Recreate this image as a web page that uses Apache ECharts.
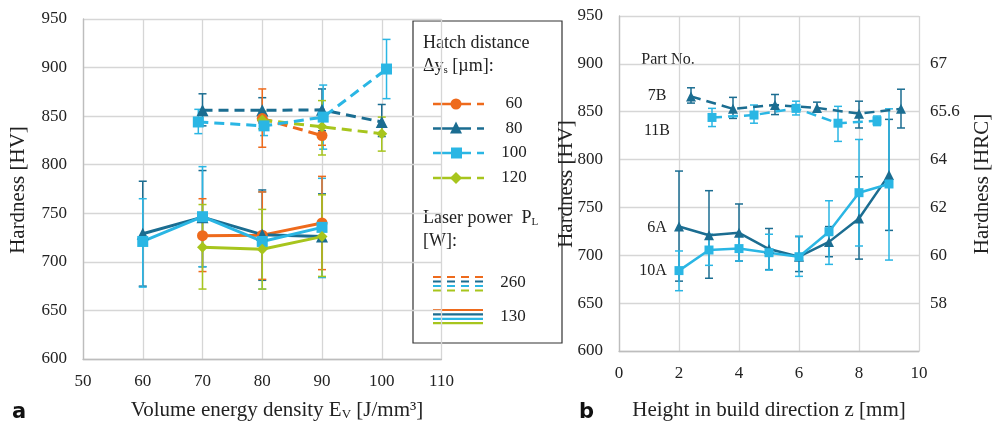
<!DOCTYPE html>
<html>
<head>
<meta charset="utf-8">
<script src="https://cdn.jsdelivr.net/npm/echarts@6/dist/echarts.min.js"></script>
<style>
html,body{margin:0;padding:0;background:#fff;}
#chart{width:1001px;height:426px;}
</style>
</head>
<body>
<div id="chart"></div>
<script>
// colours per hatch distance
var cOrange = '#EE6A1C', cDark = '#1B6D91', cLight = '#2AB6E4', cGreen = '#A7C51D';

// ---- panel a : hardness vs. volume energy density ----
// 130 W (solid)
var s60x = [70, 80, 90],          s60y = [727, 727.5, 740],       s60lo = [690, 682, 692],      s60hi = [765, 772, 788];
var s80x = [60, 70, 80, 90],      s80y = [729, 746, 728, 726],    s80lo = [675, 695, 681, 684], s80hi = [783, 794, 774, 770];
var s100x = [60, 70, 80, 90],     s100y = [721, 746.5, 721, 735.5], s100lo = [674, 695, 672, 684], s100hi = [765, 798, 772, 786];
var s120x = [70, 80, 90],         s120y = [715, 713, 726],        s120lo = [672, 672, 685],     s120hi = [759, 754, 769];
// 260 W (dashed)
var d60x = [80, 90],              d60y = [847.5, 830],            d60lo = [818, 820],           d60hi = [878, 840];
var d80x = [70, 80, 90, 100],     d80y = [856, 856, 856.5, 844],  d80lo = [840, 843, 835, 829], d80hi = [873, 869, 878, 862];
var d100x = [69.3, 80.3, 90.2, 100.8], d100y = [844, 840, 849, 898.5], d100lo = [832, 830, 816, 868], d100hi = [857, 850, 882, 929];
var d120x = [80, 90, 100],        d120y = [846, 839, 832],        d120lo = [837, 810, 814],     d120hi = [855, 866, 849];

// ---- panel b : hardness vs. build height ----
var p7Bz = [2.4, 3.8, 5.2, 6.6, 8.0, 9.4];
var p7By = [866, 853, 857, 854, 848, 853];
var p7Blo = [859, 843, 847, 850, 833, 833];
var p7Bhi = [875, 865, 868, 860, 861, 873.5];
var p11Bz = [3.1, 4.5, 5.9, 7.3, 8.6];
var p11By = [844, 846.5, 853.5, 838, 840.5];
var p11Blo = [834.5, 838, 846.6, 819, 835.5];
var p11Bhi = [853.5, 857, 861, 855.6, 845.5];
var p6Az = [2, 3, 4, 5, 6, 7, 8, 9];
var p6Ay = [730, 721, 723.5, 706.5, 698.5, 714, 738.5, 784];
var p6Alo = [673, 676, 694, 685, 683, 698.5, 696, 726];
var p6Ahi = [788, 767.5, 753.6, 728, 719.5, 730, 782, 842];
var p10Az = [2, 3, 4, 5, 6, 7, 8, 9];
var p10Ay = [684, 705.5, 707, 702.7, 698.5, 724.6, 765.4, 774.5];
var p10Alo = [663, 689.5, 694, 684.6, 678, 690.5, 709.7, 695];
var p10Ahi = [704.5, 722, 720, 722, 720, 757, 821, 853];

// right axis of panel b: HRC labels placed at HV grid values
var hrcAt = [650, 700, 750, 800, 850, 900];
var hrcLabels = ['58', '60', '62', '64', '65.6', '67'];

var serif = 'Liberation Serif';
var gridColor = '#D6D6D6';

function zip(xs, ys) { return xs.map(function (x, i) { return [x, ys[i]]; }); }
function zip3(xs, lo, hi) { return xs.map(function (x, i) { return [x, lo[i], hi[i]]; }); }

function lineSeries(xs, ys, color, symbol, size, dashed, axis, width) {
    return {
        type: 'line',
        xAxisIndex: axis, yAxisIndex: axis,
        data: zip(xs, ys),
        symbol: symbol, symbolSize: size,
        showAllSymbol: true,
        itemStyle: { color: color },
        lineStyle: { color: color, width: width, type: dashed ? [10, 6] : 'solid' },
        z: 3,
        animation: false
    };
}

function errRender(params, api) {
    var x = api.value(0);
    var lo = api.coord([x, api.value(1)]);
    var hi = api.coord([x, api.value(2)]);
    var w = 4;
    var st = { stroke: api.visual('color'), lineWidth: 1.5 };
    return {
        type: 'group', children: [
            { type: 'line', shape: { x1: lo[0], y1: lo[1], x2: hi[0], y2: hi[1] }, style: st },
            { type: 'line', shape: { x1: lo[0] - w, y1: lo[1], x2: lo[0] + w, y2: lo[1] }, style: st },
            { type: 'line', shape: { x1: hi[0] - w, y1: hi[1], x2: hi[0] + w, y2: hi[1] }, style: st }
        ]
    };
}

function errSeries(xs, lo, hi, color, axis) {
    return {
        type: 'custom',
        xAxisIndex: axis, yAxisIndex: axis,
        renderItem: errRender,
        data: zip3(xs, lo, hi),
        encode: { x: 0, y: [1, 2] },
        itemStyle: { color: color },
        z: 2,
        animation: false
    };
}

var axisLabelStyle = { fontFamily: serif, fontSize: 17, color: '#222' };
var legFont = '18px ' + serif;

var chart = echarts.init(document.getElementById('chart'));

// legend (drawn by hand, like the original box)
var legendItems = [];
var legRows = [
    { y: 104, c: cOrange, sym: 'circle', label: '60' },
    { y: 128.5, c: cDark, sym: 'triangle', label: '80' },
    { y: 153, c: cLight, sym: 'rect', label: '100' },
    { y: 178, c: cGreen, sym: 'diamond', label: '120' }
];
legendItems.push({ type: 'rect', shape: { x: 413, y: 21, width: 149, height: 322 },
    style: { fill: '#fff', stroke: '#333', lineWidth: 1.2 } });
legendItems.push({ type: 'text', x: 423, y: 43, style: { text: 'Hatch distance', font: legFont, fill: '#222', verticalAlign: 'middle' } });
legendItems.push({ type: 'text', x: 423, y: 66, style: { text: 'Δy{sub|s} [µm]:', font: legFont, fill: '#222', verticalAlign: 'middle',
    rich: { sub: { fontSize: 11, fontFamily: serif, padding: [9, 0, 0, 0] } } } });
legRows.forEach(function (r) {
    legendItems.push({ type: 'line', shape: { x1: 433, y1: r.y, x2: 471, y2: r.y }, style: { stroke: r.c, lineWidth: 2.5 } });
    legendItems.push({ type: 'line', shape: { x1: 477, y1: r.y, x2: 484, y2: r.y }, style: { stroke: r.c, lineWidth: 2.5 } });
    if (r.sym === 'circle') legendItems.push({ type: 'circle', shape: { cx: 456, cy: r.y, r: 5.5 }, style: { fill: r.c } });
    if (r.sym === 'rect') legendItems.push({ type: 'rect', shape: { x: 451, y: r.y - 5.5, width: 11, height: 11 }, style: { fill: r.c } });
    if (r.sym === 'triangle') legendItems.push({ type: 'polygon', shape: { points: [[456, r.y - 7], [462, r.y + 5], [450, r.y + 5]] }, style: { fill: r.c } });
    if (r.sym === 'diamond') legendItems.push({ type: 'polygon', shape: { points: [[456, r.y - 6], [462, r.y], [456, r.y + 6], [450, r.y]] }, style: { fill: r.c } });
    legendItems.push({ type: 'text', x: 514, y: r.y, style: { text: r.label, font: '17px ' + serif, fill: '#222', align: 'center', verticalAlign: 'middle' } });
});
legendItems.push({ type: 'text', x: 423, y: 218, style: { text: 'Laser power  P{sub|L}', font: legFont, fill: '#222', verticalAlign: 'middle',
    rich: { sub: { fontSize: 11, fontFamily: serif, padding: [9, 0, 0, 0] } } } });
legendItems.push({ type: 'text', x: 423, y: 241, style: { text: '[W]:', font: legFont, fill: '#222', verticalAlign: 'middle' } });
[cOrange, cDark, cLight, cGreen].forEach(function (c, i) {
    legendItems.push({ type: 'line', shape: { x1: 433, y1: 277 + i * 4.5, x2: 483, y2: 277 + i * 4.5 }, style: { stroke: c, lineWidth: 2.2, lineDash: [8, 6] } });
    legendItems.push({ type: 'line', shape: { x1: 433, y1: 310 + i * 4.4, x2: 483, y2: 310 + i * 4.4 }, style: { stroke: c, lineWidth: 2.2 } });
});
legendItems.push({ type: 'text', x: 513, y: 283, style: { text: '260', font: '17px ' + serif, fill: '#222', align: 'center', verticalAlign: 'middle' } });
legendItems.push({ type: 'text', x: 513, y: 317, style: { text: '130', font: '17px ' + serif, fill: '#222', align: 'center', verticalAlign: 'middle' } });

var titleFont = '21px ' + serif;
var texts = [
    { type: 'text', x: 18, y: 190, rotation: Math.PI / 2, style: { text: 'Hardness [HV]', font: titleFont, fill: '#222', align: 'center', verticalAlign: 'middle' } },
    { type: 'text', x: 566, y: 184, rotation: Math.PI / 2, style: { text: 'Hardness [HV]', font: titleFont, fill: '#222', align: 'center', verticalAlign: 'middle' } },
    { type: 'text', x: 982, y: 184, rotation: Math.PI / 2, style: { text: 'Hardness [HRC]', font: titleFont, fill: '#222', align: 'center', verticalAlign: 'middle' } },
    { type: 'text', x: 277, y: 410, style: { text: 'Volume energy density E{sub|V} [J/mm³]', font: titleFont, fill: '#222', align: 'center', verticalAlign: 'middle',
        rich: { sub: { fontSize: 13, fontFamily: serif, padding: [10, 0, 0, 0] } } } },
    { type: 'text', x: 769, y: 410, style: { text: 'Height in build direction z [mm]', font: titleFont, fill: '#222', align: 'center', verticalAlign: 'middle' } },
    { type: 'text', x: 12, y: 413, style: { text: 'a', font: 'bold 21px DejaVu Sans', fill: '#111', verticalAlign: 'middle' } },
    { type: 'text', x: 579, y: 413, style: { text: 'b', font: 'bold 21px DejaVu Sans', fill: '#111', verticalAlign: 'middle' } },
    // part numbers of panel b
    { type: 'rect', shape: { x: 628, y: 48, width: 79, height: 25 }, style: { fill: '#fff' } },
    { type: 'text', x: 668, y: 60, style: { text: 'Part No.', font: '16px ' + serif, fill: '#222', align: 'center', verticalAlign: 'middle' } },
    { type: 'text', x: 657, y: 96, style: { text: '7B', font: '16px ' + serif, fill: '#222', align: 'center', verticalAlign: 'middle' } },
    { type: 'text', x: 657, y: 131, style: { text: '11B', font: '16px ' + serif, fill: '#222', align: 'center', verticalAlign: 'middle' } },
    { type: 'text', x: 657, y: 228, style: { text: '6A', font: '16px ' + serif, fill: '#222', align: 'center', verticalAlign: 'middle' } },
    { type: 'text', x: 653, y: 271, style: { text: '10A', font: '16px ' + serif, fill: '#222', align: 'center', verticalAlign: 'middle' } }
];

var option = {
    backgroundColor: '#fff',
    animation: false,
    grid: [
        { left: 83, top: 19, width: 358.5, height: 340 },
        { left: 619, top: 16, width: 300, height: 335 }
    ],
    xAxis: [
        { gridIndex: 0, type: 'value', min: 50, max: 110, interval: 10,
          axisLine: { show: true, lineStyle: { color: '#BDBDBD', width: 1.3 } }, axisTick: { show: false },
          splitLine: { show: true, lineStyle: { color: gridColor, width: 1.3 } },
          axisLabel: Object.assign({ margin: 14 }, axisLabelStyle) },
        { gridIndex: 1, type: 'value', min: 0, max: 10, interval: 2,
          axisLine: { show: true, lineStyle: { color: '#BDBDBD', width: 1.3 } }, axisTick: { show: false },
          splitLine: { show: true, lineStyle: { color: gridColor, width: 1.3 } },
          axisLabel: Object.assign({ margin: 14 }, axisLabelStyle) }
    ],
    yAxis: [
        { gridIndex: 0, type: 'value', min: 600, max: 950, interval: 50,
          axisLine: { show: true, lineStyle: { color: '#BDBDBD', width: 1.3 } }, axisTick: { show: false },
          splitLine: { show: true, lineStyle: { color: gridColor, width: 1.3 } },
          axisLabel: Object.assign({ margin: 16 }, axisLabelStyle) },
        { gridIndex: 1, type: 'value', min: 600, max: 950, interval: 50,
          axisLine: { show: true, lineStyle: { color: '#BDBDBD', width: 1.3 } }, axisTick: { show: false },
          splitLine: { show: true, lineStyle: { color: gridColor, width: 1.3 } },
          axisLabel: Object.assign({ margin: 16 }, axisLabelStyle) },
        { gridIndex: 1, type: 'value', position: 'right', min: 600, max: 950, interval: 50,
          axisLine: { show: false }, axisTick: { show: false }, splitLine: { show: false },
          axisLabel: Object.assign({ margin: 11, formatter: function (v) {
              var i = hrcAt.indexOf(v); return i >= 0 ? hrcLabels[i] : '';
          } }, axisLabelStyle) }
    ],
    graphic: { elements: [{ type: 'group', z: 100, children: legendItems.concat(texts) }] },
    series: [
        // panel a error bars
        errSeries(d80x, d80lo, d80hi, cDark, 0),
        errSeries(d100x, d100lo, d100hi, cLight, 0),
        errSeries(d60x, d60lo, d60hi, cOrange, 0),
        errSeries(d120x, d120lo, d120hi, cGreen, 0),
        errSeries(s80x, s80lo, s80hi, cDark, 0),
        errSeries(s100x, s100lo, s100hi, cLight, 0),
        errSeries(s60x, s60lo, s60hi, cOrange, 0),
        errSeries(s120x, s120lo, s120hi, cGreen, 0),
        // panel a lines, 260 W dashed
        lineSeries(d80x, d80y, cDark, 'triangle', 12, true, 0, 3),
        lineSeries(d60x, d60y, cOrange, 'circle', 11, true, 0, 3),
        lineSeries(d120x, d120y, cGreen, 'diamond', 11, true, 0, 3),
        lineSeries(d100x, d100y, cLight, 'rect', 11, true, 0, 3),
        // 130 W solid
        lineSeries(s60x, s60y, cOrange, 'circle', 11, false, 0, 3),
        lineSeries(s80x, s80y, cDark, 'triangle', 12, false, 0, 3),
        lineSeries(s100x, s100y, cLight, 'rect', 11, false, 0, 3),
        lineSeries(s120x, s120y, cGreen, 'diamond', 11, false, 0, 3),
        // panel b
        errSeries(p7Bz, p7Blo, p7Bhi, cDark, 1),
        errSeries(p11Bz, p11Blo, p11Bhi, cLight, 1),
        errSeries(p6Az, p6Alo, p6Ahi, cDark, 1),
        errSeries(p10Az, p10Alo, p10Ahi, cLight, 1),
        lineSeries(p7Bz, p7By, cDark, 'triangle', 10, true, 1, 2.5),
        lineSeries(p11Bz, p11By, cLight, 'rect', 9, true, 1, 2.5),
        lineSeries(p6Az, p6Ay, cDark, 'triangle', 10, false, 1, 2.5),
        lineSeries(p10Az, p10Ay, cLight, 'rect', 9, false, 1, 2.5)
    ]
};
chart.setOption(option);
</script>
</body>
</html>
